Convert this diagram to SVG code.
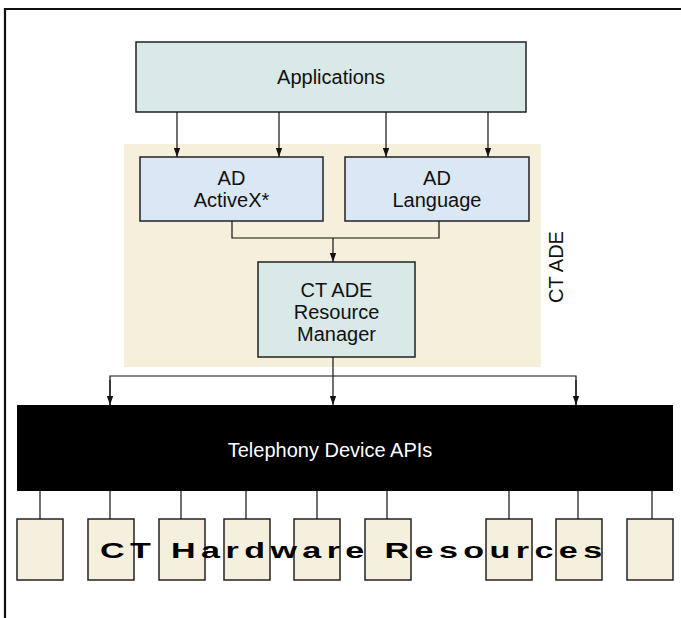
<svg xmlns="http://www.w3.org/2000/svg" width="681" height="618" viewBox="0 0 681 618">
<defs>
<marker id="arr" viewBox="0 0 10 7" refX="10" refY="3.5" markerWidth="9" markerHeight="6.3" markerUnits="userSpaceOnUse" orient="auto">
<path d="M0,0 L10,3.5 L0,7 z" fill="#111"/>
</marker>
<style>
.lbl{font-family:"Liberation Sans",Arial,sans-serif;font-size:20px;fill:#111;text-anchor:middle}
.box{stroke:#222;stroke-width:1.5}
.teal{fill:#d8e9e8}
.blue{fill:#dae8f6}
.hw{fill:#f5f0dd;stroke:#222;stroke-width:1.5}
.con{fill:none;stroke:#111;stroke-width:1.2}
</style>
</defs>
<rect width="681" height="618" fill="#fff"/>
<!-- outer frame -->
<path d="M5,618 V9 H681" fill="none" stroke="#111" stroke-width="2.2"/>
<!-- CT ADE region -->
<g id="ctade">
<rect x="124" y="144" width="417" height="223" fill="#f5efdc"/>
<text class="lbl" transform="translate(563,267) rotate(-90)" x="0" y="0">CT ADE</text>
</g>
<g id="applications">
<rect class="box teal" x="136" y="42" width="390" height="70"/>
<text class="lbl" x="331" y="84">Applications</text>
</g>
<g id="ad-activex">
<rect class="box blue" x="140" y="157" width="183" height="64"/>
<text class="lbl" x="231.5" y="185">AD</text>
<text class="lbl" x="231.5" y="207">ActiveX*</text>
</g>
<g id="ad-language">
<rect class="box blue" x="345" y="157" width="184" height="64"/>
<text class="lbl" x="437" y="185">AD</text>
<text class="lbl" x="437" y="207">Language</text>
</g>
<g id="resource-manager">
<rect class="box teal" x="258" y="262" width="157" height="95"/>
<text class="lbl" x="336.5" y="297">CT ADE</text>
<text class="lbl" x="336.5" y="319">Resource</text>
<text class="lbl" x="336.5" y="341">Manager</text>
</g>
<g id="telephony-apis">
<rect x="17" y="405" width="656" height="86" fill="#000"/>
<text class="lbl" x="330" y="457" style="fill:#fff">Telephony Device APIs</text>
</g>
<g id="hardware">
<rect class="hw" x="17" y="519" width="46" height="61"/>
<rect class="hw" x="88" y="519" width="46" height="61"/>
<rect class="hw" x="159" y="519" width="46" height="61"/>
<rect class="hw" x="224" y="519" width="46" height="61"/>
<rect class="hw" x="294" y="519" width="46" height="61"/>
<rect class="hw" x="365" y="519" width="46" height="61"/>
<rect class="hw" x="486" y="519" width="46" height="61"/>
<rect class="hw" x="556" y="519" width="46" height="61"/>
<rect class="hw" x="627" y="519" width="46" height="61"/>
<text transform="translate(100,558) scale(1.55,1)" x="0" y="0" textLength="324" lengthAdjust="spacing" style="font-family:'Liberation Sans',Arial,sans-serif;font-weight:bold;font-size:22px;fill:#000">CT Hardware Resources</text>
</g>
<g id="connectors">
<line class="con" x1="177" y1="112" x2="177" y2="157" marker-end="url(#arr)"/>
<line class="con" x1="279" y1="112" x2="279" y2="157" marker-end="url(#arr)"/>
<line class="con" x1="386" y1="112" x2="386" y2="157" marker-end="url(#arr)"/>
<line class="con" x1="488" y1="112" x2="488" y2="157" marker-end="url(#arr)"/>
<path class="con" d="M232,221 V238 H439 V221"/>
<line class="con" x1="333" y1="238" x2="333" y2="262" marker-end="url(#arr)"/>
<line class="con" x1="333" y1="357" x2="333" y2="405" marker-end="url(#arr)"/>
<path class="con" d="M110,405 V376 H576 V405"/>
<line class="con" x1="110" y1="380" x2="110" y2="405" marker-end="url(#arr)"/>
<line class="con" x1="576" y1="380" x2="576" y2="405" marker-end="url(#arr)"/>
<line class="con" x1="40" y1="491" x2="40" y2="519"/>
<line class="con" x1="110" y1="491" x2="110" y2="519"/>
<line class="con" x1="181" y1="491" x2="181" y2="519"/>
<line class="con" x1="246" y1="491" x2="246" y2="519"/>
<line class="con" x1="317" y1="491" x2="317" y2="519"/>
<line class="con" x1="387" y1="491" x2="387" y2="519"/>
<line class="con" x1="509" y1="491" x2="509" y2="519"/>
<line class="con" x1="578" y1="491" x2="578" y2="519"/>
<line class="con" x1="652" y1="491" x2="652" y2="519"/>
</g>
</svg>
